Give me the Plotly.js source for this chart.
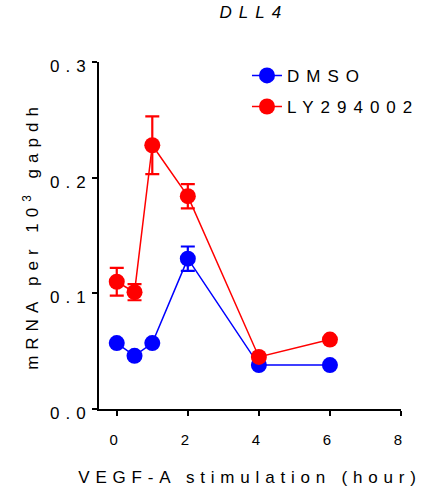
<!DOCTYPE html>
<html>
<head>
<meta charset="utf-8">
<script src="https://cdn.plot.ly/plotly-3.0.1.min.js"></script>
<style>
  html, body { margin: 0; padding: 0; background: #fff; }
  #chart { width: 421px; height: 492px; }
  .xtick text { letter-spacing: 6px; }
  .ytick text { letter-spacing: 6px; }
  .gtitle { letter-spacing: 7px; }
  .xtitle { letter-spacing: 5.8px; }
  .ytitle { letter-spacing: 6px; }
  .legendtext { letter-spacing: 7px; }
</style>
</head>
<body>
<div id="chart"></div>
<script>
// Data
const hours = [0, 0.5, 1, 2, 4, 6];
const dmsoValues = [0.057, 0.046, 0.057, 0.130, 0.038, 0.038];
const dmsoErrors = [0, 0, 0, 0.0105, 0, 0];
const lyValues = [0.110, 0.101, 0.228, 0.184, 0.045, 0.060];
const lyErrors = [0.012, 0.007, 0.025, 0.0105, 0, 0];
const seriesNames = ["DMSO", "LY294002"];
const xTickValues = [0, 2, 4, 6, 8];
const yTickValues = [0, 0.1, 0.2, 0.3];
const yTickLabels = ["0.0", "0.1", "0.2", "0.3"];

const font = "Liberation Sans, Arial, Helvetica, sans-serif";

function makeTrace(name, y, err, color, group) {
  return {
    type: "scatter",
    mode: "lines+markers",
    name: name,
    legendgroup: group,
    x: hours,
    y: y,
    line: { color: color, width: 1.5 },
    marker: { color: color, size: 16, symbol: "circle" },
    error_y: { type: "data", array: err, visible: true, color: color, thickness: 2.2, width: 7 },
    cliponaxis: false
  };
}

const data = [
  makeTrace(seriesNames[0], dmsoValues, dmsoErrors, "#0000ff", "a"),
  makeTrace(seriesNames[1], lyValues, lyErrors, "#ff0000", "b")
];

const layout = {
  width: 421,
  height: 492,
  margin: { l: 99, r: 20, t: 62, b: 83, pad: 0, autoexpand: false },
  paper_bgcolor: "#ffffff",
  plot_bgcolor: "#ffffff",
  font: { family: font, color: "#000000", size: 15 },
  title: {
    text: "<i>DLL4</i>",
    font: { family: font, size: 17, color: "#000000" },
    x: 0.513, xref: "paper", xanchor: "center",
    y: 0.975, yref: "container", yanchor: "middle"
  },
  showlegend: true,
  legend: {
    x: 0.49, y: 1.012, xanchor: "left", yanchor: "top",
    font: { family: font, size: 17, color: "#000000" },
    bgcolor: "rgba(0,0,0,0)",
    tracegroupgap: 6,
    traceorder: "grouped"
  },
  xaxis: {
    range: [-0.5, 8],
    tickvals: xTickValues,
    ticktext: xTickValues.map(String),
    showgrid: false, zeroline: false,
    showline: true, linecolor: "#000000", linewidth: 2,
    ticks: "outside", ticklen: 5, tickwidth: 2, tickcolor: "#000000",
    ticklabelstandoff: 11,
    tickfont: { family: font, size: 15, color: "#000000" },
    title: { text: "VEGF-A stimulation (hour)", font: { family: font, size: 17, color: "#000000" }, standoff: 24 },
    automargin: false
  },
  yaxis: {
    range: [0, 0.3],
    tickvals: yTickValues,
    ticktext: yTickLabels,
    showgrid: false, zeroline: false,
    showline: true, linecolor: "#000000", linewidth: 2,
    ticks: "outside", ticklen: 5, tickwidth: 2, tickcolor: "#000000",
    ticklabelstandoff: -3,
    ticklabelshift: 4,
    tickfont: { family: font, size: 17, color: "#000000" },
    title: { text: "mRNA per 10<sup>3</sup> gapdh", font: { family: font, size: 17, color: "#000000" }, standoff: 7 },
    automargin: false
  }
};

Plotly.newPlot("chart", data, layout, { displayModeBar: false, staticPlot: true });
</script>
</body>
</html>
